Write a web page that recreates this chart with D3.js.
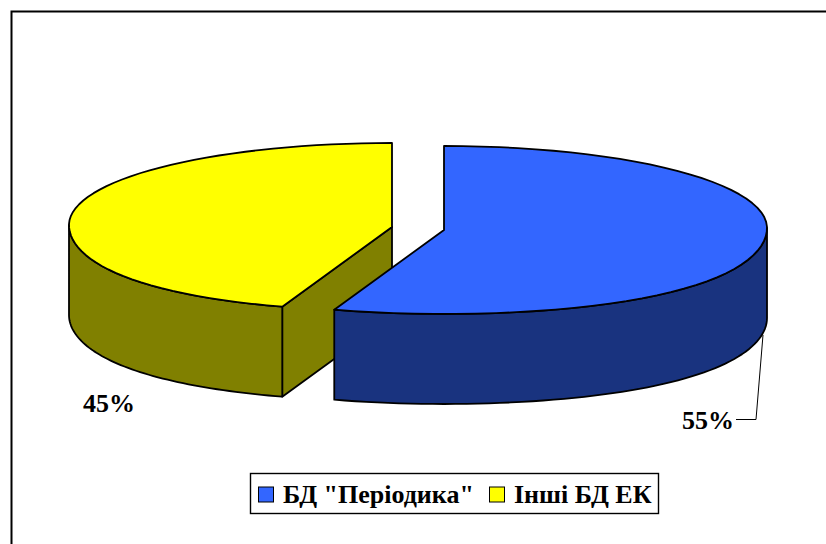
<!DOCTYPE html>
<html lang="en">

<head>
  <meta charset="UTF-8">
  <title>БД</title>
  <script src="https://cdn.jsdelivr.net/npm/d3@7"></script>
  <style>
    html, body {
      margin: 0;
      background: #fff;
    }

    svg {
      display: block;
    }

    .edge {
      stroke: #000;
      stroke-width: 1.8;
      stroke-linejoin: round;
    }
  </style>
</head>

<body>
  <div id="plot"></div>
  <script>
    const categories = ['БД "Періодика"', 'Інші БД ЕК'];
    const shares = [55, 45];
    const shareLabels = ['55%', '45%'];
    const topColors = ['#3366ff', '#ffff00'];
    const sideColors = ['#19337f', '#808000'];

    const width = 826, height = 544;

    const svg = d3.select('#plot').append('svg')
      .attr('width', width)
      .attr('height', height);

    // chart frame, runs off the right and bottom of the window
    svg.append('path')
      .attr('d', `M11.5,${height}V11.5H${width}`)
      .attr('fill', 'none')
      .attr('stroke', '#000')
      .attr('stroke-width', 2);

    const arcs = d3.pie().sort(null)(shares);

    // each slice is pulled away from the middle of the pie
    const centers = [{ x: 444, y: 230 }, { x: 392, y: 227 }];
    const rx = d3.scaleLinear().domain([-1, 1]).range([-323, 323]);
    const ry = d3.scaleLinear().domain([-1, 1]).range([-84, 84]);
    const depth = 90;
    const perspective = 0.11;
    const sag = 2;

    // angle on the pie to a point on the tilted disc
    function project(a, c, drop = 0) {
      const u = -Math.cos(a);
      // front of the disc is nearer, so it spreads wider
      const near = u > 0 ? 1 + perspective * u * u : 1;
      return [c.x + rx(Math.sin(a)) * near, c.y + ry(u) - sag * (1 - u * u) + drop];
    }

    function samples(a0, a1) {
      return d3.range(0, 61).map(i => a0 + (a1 - a0) * i / 60);
    }

    const line = d3.line();

    // yellow goes first, the blue slice sits in front of it
    [1, 0].forEach(i => {
      const d = arcs[i], c = centers[i];
      const g = svg.append('g');

      // cut face of the slice that looks at the viewer
      if (i === 1) {
        const a = d.startAngle;
        g.append('path')
          .attr('class', 'edge')
          .attr('fill', sideColors[i])
          .attr('d', line([[c.x, c.y], project(a, c), project(a, c, depth), [c.x, c.y + depth]]) + 'Z');
      }

      // outer wall, only the front half of the rim shows
      const from = Math.max(d.startAngle, Math.PI / 2);
      const to = Math.min(d.endAngle, Math.PI * 1.5);
      const rim = samples(from, to);
      g.append('path')
        .attr('class', 'edge')
        .attr('fill', sideColors[i])
        .attr('d', line(rim.map(a => project(a, c)).concat(rim.slice().reverse().map(a => project(a, c, depth)))) + 'Z');

      // top of the slice
      g.append('path')
        .attr('class', 'edge')
        .attr('fill', topColors[i])
        .attr('d', line([[c.x, c.y]].concat(samples(d.startAngle, d.endAngle).map(a => project(a, c)))) + 'Z');
    });

    function addText(parent, x, y, s) {
      return parent.append('text')
        .attr('x', x).attr('y', y)
        .style('font-family', "'Liberation Serif'")
        .style('font-weight', 'bold')
        .style('font-size', '26px')
        .text(s);
    }

    // data labels
    addText(svg, 682, 429, shareLabels[0]);
    addText(svg, 83, 412, shareLabels[1]);

    // leader line of the 55% label
    svg.append('path')
      .attr('d', 'M736,419.5H756L763,335')
      .attr('fill', 'none')
      .attr('stroke', '#000')
      .attr('stroke-width', 1);

    // legend
    const legend = svg.append('g');
    legend.append('rect')
      .attr('x', 250.5).attr('y', 473.5)
      .attr('width', 408).attr('height', 40)
      .attr('fill', '#fff')
      .attr('stroke', '#000')
      .attr('stroke-width', 1.4);

    const legendX = [258.5, 489.5];
    categories.forEach((name, i) => {
      legend.append('rect')
        .attr('x', legendX[i]).attr('y', 487)
        .attr('width', 15).attr('height', 15)
        .attr('fill', topColors[i])
        .attr('stroke', '#000')
        .attr('stroke-width', 1);
      addText(legend, legendX[i] + 24.5, 503, name);
    });
  </script>
</body>

</html>
